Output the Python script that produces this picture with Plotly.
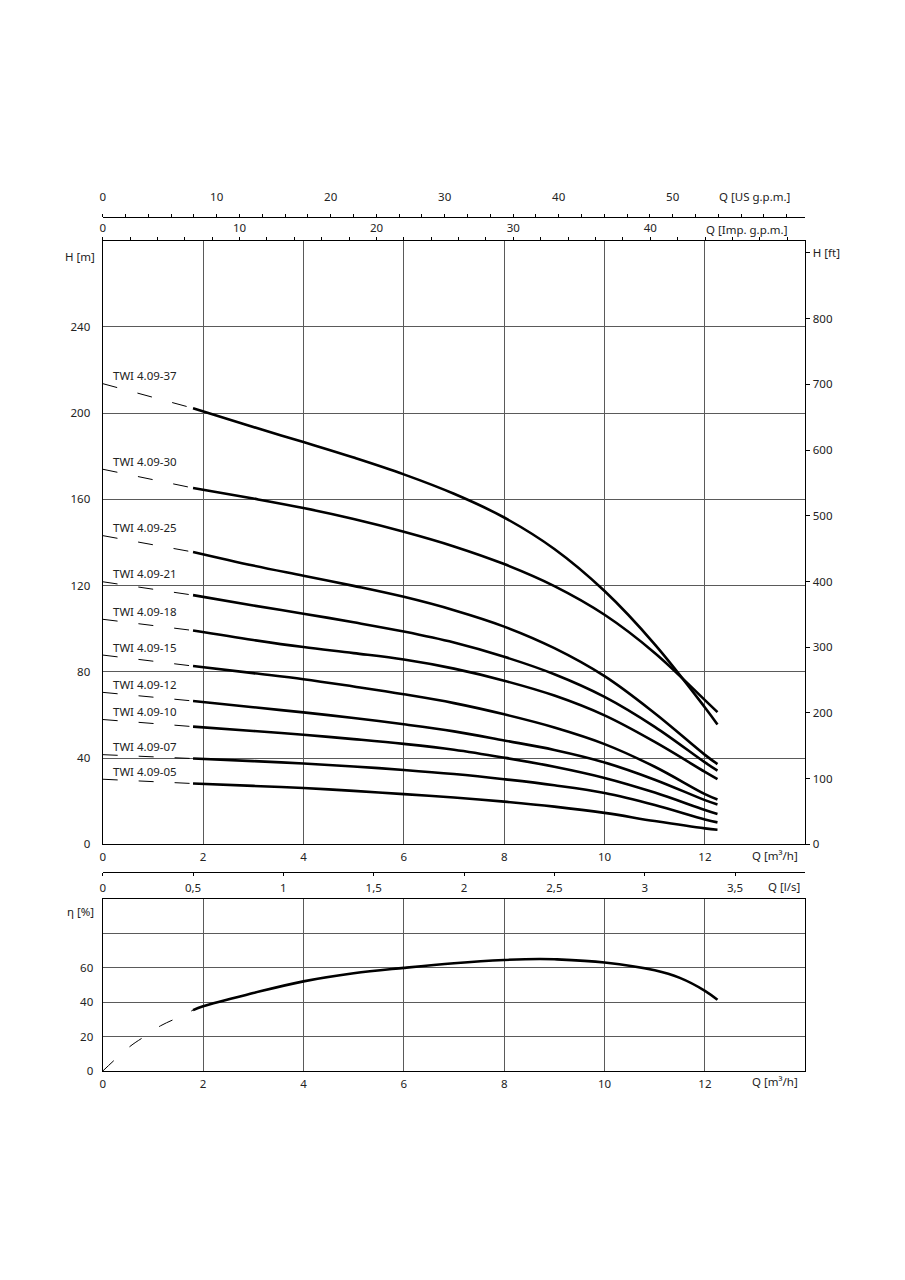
import plotly.graph_objects as go

# ---------------- data ----------------
Q_POINTS = [1.8, 3, 4, 5, 6, 7, 8, 9, 10, 11, 12, 12.25]

PUMP_NAMES = ["TWI 4.09-37", "TWI 4.09-30", "TWI 4.09-25", "TWI 4.09-21", "TWI 4.09-18",
              "TWI 4.09-15", "TWI 4.09-12", "TWI 4.09-10", "TWI 4.09-07", "TWI 4.09-05"]

H_37 = [202.3, 193.6, 186.6, 179.4, 171.6, 162.6, 151.6, 137.0, 117.5, 92.8, 63.5, 55.6]
H_30 = [165.3, 160.4, 156.0, 150.9, 145.0, 138.2, 130.0, 119.8, 106.5, 88.8, 66.9, 61.3]
H_25 = [135.6, 129.3, 124.6, 119.9, 114.8, 108.6, 101.0, 91.0, 78.0, 60.8, 41.5, 37.2]
H_21 = [115.6, 110.8, 107.0, 103.0, 98.7, 93.6, 87.0, 78.9, 68.4, 54.5, 38.0, 34.2]
H_18 = [99.2, 94.8, 91.5, 88.7, 85.7, 81.5, 75.9, 69.0, 59.8, 47.5, 33.6, 30.2]
H_15 = [82.7, 79.4, 76.6, 73.2, 69.6, 65.5, 60.3, 54.2, 46.5, 36.0, 23.3, 20.8]
H_12 = [66.5, 63.6, 61.2, 58.6, 55.7, 52.4, 48.2, 43.8, 38.0, 30.0, 20.5, 18.5]
H_10 = [54.6, 52.6, 50.8, 48.8, 46.6, 43.9, 40.2, 36.0, 30.8, 24.0, 15.9, 14.1]
H_07 = [39.8, 38.6, 37.5, 36.1, 34.5, 32.6, 30.2, 27.4, 23.8, 18.2, 11.5, 10.2]
H_05 = [28.2, 27.1, 26.1, 24.8, 23.3, 21.7, 19.8, 17.5, 14.6, 10.8, 7.4, 6.8]

H_CURVES = [H_37, H_30, H_25, H_21, H_18, H_15, H_12, H_10, H_07, H_05]
H_SHUTOFF = [213.7, 174.0, 143.2, 121.8, 104.4, 87.8, 70.5, 57.9, 41.6, 30.2]

Q_ETA = [1.8, 2, 3, 4, 5, 6, 7, 8, 8.7, 9, 10, 11, 11.5, 12, 12.25]
ETA = [35.3, 37.6, 45.2, 52.0, 56.7, 59.8, 62.5, 64.4, 65.0, 64.8, 62.9, 58.4, 54.0, 46.5, 41.3]
Q_ETA_EXT = [0, 0.54, 0.81, 1.15, 1.43, 1.8]
ETA_EXT = [0, 14.2, 19.6, 26.2, 30.1, 35.3]

Q_TICKS = [0, 2, 4, 6, 8, 10, 12]
H_M_TICKS = [0, 40, 80, 120, 160, 200, 240]
H_FT_TICKS = [0, 100, 200, 300, 400, 500, 600, 700, 800, 900]
H_FT_LABELS = ["0", "100", "200", "300", "400", "500", "600", "700", "800", "H [ft]"]
US_GPM_TICKS = list(range(0, 62, 2))
US_GPM_LABELED = [0, 10, 20, 30, 40, 50]
IMP_GPM_TICKS = list(range(0, 52, 2))
IMP_GPM_LABELED = [0, 10, 20, 30, 40]
LS_TICKS = [0, 0.5, 1, 1.5, 2, 2.5, 3, 3.5]
LS_LABELS = ["0", "0,5", "1", "1,5", "2", "2,5", "3", "3,5"]
ETA_TICKS = [0, 20, 40, 60, 80]
ETA_LABELS = ["0", "20", "40", "60", ""]

Q_MAX = 14
H_MAX = 280
M_TO_FT = 3.28084
M3H_TO_USGPM = 4.40287
M3H_TO_IMPGPM = 3.66615
M3H_TO_LS = 1 / 3.6

# ---------------- layout geometry ----------------
OFF = 8                 # page body margin
W, H = 889, 1264
def px_x(p): return (p - OFF) / W
def px_y(p): return 1 - (p - OFF) / H

X_DOM = [px_x(100), px_x(805)]
Y_MAIN = [px_y(849), px_y(242)]
Y_ETA = [px_y(1077), px_y(903.5)]

FONT = dict(family="Noto Sans, DejaVu Sans, sans-serif", size=11.5, color="#222")
GRID = "#5a5a5a"
SMOOTH = 1.05

fig = go.Figure()

# pump curves
for name, hs, h0 in zip(PUMP_NAMES, H_CURVES, H_SHUTOFF):
    fig.add_trace(go.Scatter(x=[0, Q_POINTS[0]], y=[h0, hs[0]], mode="lines",
                             line=dict(color="black", width=1, dash="15px,21px"),
                             xaxis="x", yaxis="y", hoverinfo="skip", showlegend=False))
    fig.add_trace(go.Scatter(x=Q_POINTS, y=hs, mode="lines", name=name,
                             line=dict(color="black", width=2.6, shape="spline", smoothing=SMOOTH),
                             xaxis="x", yaxis="y", showlegend=False))
    fig.add_annotation(x=0.17, y=h0, xref="x", yref="y", text=name, showarrow=False,
                       xanchor="left", yanchor="middle", yshift=8, font=FONT)

# efficiency
fig.add_trace(go.Scatter(x=Q_ETA_EXT, y=ETA_EXT, mode="lines",
                         line=dict(color="black", width=1, dash="15px,21px", shape="spline"),
                         xaxis="x5", yaxis="y3", hoverinfo="skip", showlegend=False))
fig.add_trace(go.Scatter(x=Q_ETA, y=ETA, mode="lines",
                         line=dict(color="black", width=2.6, shape="spline", smoothing=SMOOTH),
                         xaxis="x5", yaxis="y3", showlegend=False))

# invisible traces to bind secondary axes
for xa, ya in [("x2", "y"), ("x3", "y"), ("x4", "y"), ("x", "y2")]:
    fig.add_trace(go.Scatter(x=[None], y=[None], mode="lines", xaxis=xa, yaxis=ya,
                             hoverinfo="skip", showlegend=False))

common_line = dict(showline=True, linecolor="black", linewidth=1.3, zeroline=False,
                   tickfont=FONT)

fig.update_layout(
    width=W, height=H, autosize=False,
    margin=dict(l=0, r=0, t=0, b=0),
    paper_bgcolor="white", plot_bgcolor="white",
    showlegend=False,
    xaxis=dict(domain=X_DOM, anchor="y", range=[0, Q_MAX], tickmode="array",
               tickvals=Q_TICKS, ticks="", showgrid=True, gridcolor=GRID, gridwidth=1,
               mirror=True, ticklabelstandoff=2, **common_line),
    yaxis=dict(domain=Y_MAIN, anchor="x", range=[0, H_MAX], tickmode="array",
               tickvals=H_M_TICKS, ticks="", showgrid=True, gridcolor=GRID, gridwidth=1,
               mirror=True, ticklabelstandoff=9, **common_line),
    yaxis2=dict(overlaying="y", anchor="x", side="right", range=[0, H_MAX * M_TO_FT],
                tickmode="array", tickvals=H_FT_TICKS, ticktext=H_FT_LABELS,
                ticks="outside", ticklen=4, tickcolor="black", showgrid=False, **common_line),
    xaxis2=dict(overlaying="x", anchor="free", position=px_y(218), side="top",
                range=[0, Q_MAX * M3H_TO_USGPM], tickmode="array", tickvals=US_GPM_TICKS,
                ticktext=[str(v) if v in US_GPM_LABELED else "" for v in US_GPM_TICKS],
                ticks="outside", ticklen=3, tickcolor="black", showgrid=False,
                ticklabelstandoff=8, **common_line),
    xaxis3=dict(overlaying="x", anchor="y", side="top",
                range=[0, Q_MAX * M3H_TO_IMPGPM], tickmode="array", tickvals=IMP_GPM_TICKS,
                ticktext=[str(v) if v in IMP_GPM_LABELED else "" for v in IMP_GPM_TICKS],
                ticks="outside", ticklen=3, tickcolor="black", showgrid=False, **common_line),
    xaxis4=dict(overlaying="x", anchor="free", position=px_y(877), side="bottom",
                range=[0, Q_MAX * M3H_TO_LS], tickmode="array", tickvals=LS_TICKS,
                ticktext=LS_LABELS, ticks="outside", ticklen=3, tickcolor="black",
                showgrid=False, ticklabelstandoff=2, **common_line),
    xaxis5=dict(domain=X_DOM, anchor="y3", range=[0, Q_MAX], tickmode="array",
                tickvals=Q_TICKS, ticks="", showgrid=True, gridcolor=GRID, gridwidth=1,
                mirror=True, ticklabelstandoff=2, **common_line),
    yaxis3=dict(domain=Y_ETA, anchor="x5", range=[0, 100], tickmode="array",
                tickvals=ETA_TICKS, ticktext=ETA_LABELS, ticks="", showgrid=True,
                gridcolor=GRID, gridwidth=1, mirror=True, ticklabelstandoff=6, **common_line),
)

ann = [
    ("H [m]", px_x(94), px_y(258), "right"),
    ("Q [US g.p.m.]", px_x(716), px_y(198), "left"),
    ("Q [Imp. g.p.m.]", px_x(703), px_y(231), "left"),
    ("Q [m³/h]", px_x(750), px_y(860), "left"),
    ("Q [l/s]", px_x(766), px_y(891), "left"),
    ("η [%]", px_x(93), px_y(917), "right"),
    ("Q [m³/h]", px_x(750), px_y(1087), "left"),
]
for text, ax, ay, anc in ann:
    fig.add_annotation(x=ax, y=ay, xref="paper", yref="paper", text=text, showarrow=False,
                       xanchor=anc, yanchor="middle", font=FONT)

fig.write_html("out.html")
